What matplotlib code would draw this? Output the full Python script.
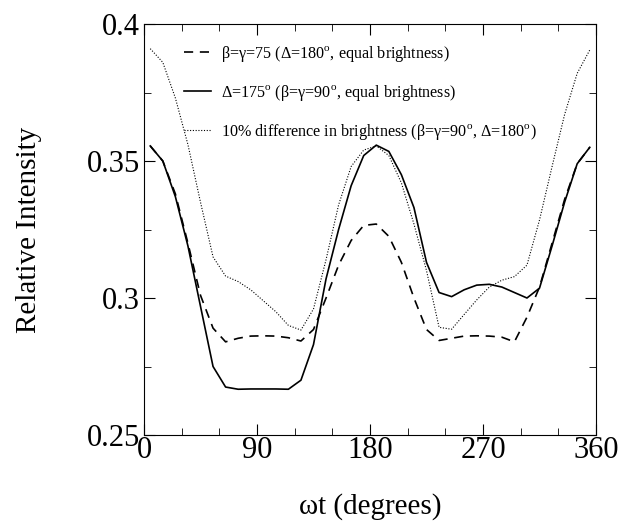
import matplotlib
matplotlib.use('Agg')
import matplotlib.pyplot as plt
import numpy as np

plt.rcParams['font.family'] = ['Liberation Serif', 'DejaVu Serif']
plt.rcParams['mathtext.fontset'] = 'custom'
plt.rcParams['mathtext.rm'] = 'Liberation Serif'

# phase angle (degrees)
wt = [5, 15, 25, 35, 45, 55, 65, 75, 85, 95, 105, 115, 125, 135, 145, 155, 165, 175,
      185, 195, 205, 215, 225, 235, 245, 255, 265, 275, 285, 295, 305, 315, 325, 335, 345, 355]

# beta=gamma=75, Delta=180, equal brightness
beta75 = [0.3555, 0.350, 0.338, 0.320, 0.301, 0.289, 0.284, 0.2853, 0.2861, 0.2862, 0.2861, 0.2855,
          0.2843, 0.2885, 0.300, 0.312, 0.321, 0.3265, 0.327, 0.3225, 0.313, 0.300, 0.2885, 0.2845,
          0.2853, 0.2861, 0.2862, 0.2861, 0.2857, 0.284, 0.293, 0.304, 0.320, 0.336, 0.349, 0.355]

# Delta=175, beta=gamma=90, equal brightness
delta175 = [0.3555, 0.350, 0.337, 0.319, 0.297, 0.275, 0.2675, 0.2667, 0.2668, 0.2668, 0.2668, 0.2667,
            0.2700, 0.283, 0.307, 0.325, 0.341, 0.352, 0.3558, 0.3535, 0.345, 0.333, 0.313, 0.302,
            0.3005, 0.303, 0.3047, 0.305, 0.304, 0.302, 0.300, 0.3036, 0.319, 0.335, 0.349, 0.355]

# 10% difference in brightness
bright10 = [0.391, 0.386, 0.373, 0.356, 0.335, 0.315, 0.308, 0.306, 0.303, 0.299, 0.295, 0.290,
            0.2883, 0.296, 0.314, 0.334, 0.348, 0.354, 0.3555, 0.352, 0.342, 0.327, 0.310, 0.2893,
            0.2886, 0.294, 0.2993, 0.304, 0.3065, 0.3078, 0.312, 0.3285, 0.348, 0.367, 0.382, 0.3905]

labels = ['β=γ=75 (Δ=180$^{\\rm o}$, equal brightness)',
          'Δ=175$^{\\rm o}$ (β=γ=90$^{\\rm o}$, equal brightness)',
          '10% difference in brightness (β=γ=90$^{\\rm o}$, Δ=180$^{\\rm o}$)']

fig = plt.figure(figsize=(6.23, 5.29), dpi=100)
ax = fig.add_axes([0.2311, 0.1777, 0.7256, 0.7769])

ax.plot(wt, beta75, color='black', lw=1.2, dashes=(5.5, 4), label=labels[0])
ax.plot(wt, delta175, color='black', lw=1.2, label=labels[1])
ax.plot(wt, bright10, color='black', lw=0.8, dashes=(1, 1.5), label=labels[2])

ax.set_xlim(0, 360)
ax.set_ylim(0.25, 0.4)
ax.set_xticks([0, 90, 180, 270, 360])
ax.set_xticks(np.arange(0, 361, 30), minor=True)
ax.set_yticks([0.25, 0.3, 0.35, 0.4])
ax.set_yticklabels(['0.25', '0.3', '0.35', '0.4'])
ax.set_yticks(np.arange(0.25, 0.401, 0.025), minor=True)
ax.tick_params(which='both', direction='in', top=True, right=True, labelsize=22)
ax.tick_params(which='major', length=8)
ax.tick_params(which='minor', length=5)
ax.tick_params(axis='x', pad=1)
ax.tick_params(axis='y', pad=3)

ax.set_xlabel('ωt (degrees)', fontsize=21, labelpad=20)
ax.set_ylabel('Relative Intensity', fontsize=21, labelpad=32)

ax.legend(loc='upper left', bbox_to_anchor=(0.0885, 0.952), frameon=False, fontsize=11.6,
          handlelength=1.7, handletextpad=0.6, labelspacing=1.18, borderpad=0, borderaxespad=0)

plt.savefig('out.png', dpi=100)
